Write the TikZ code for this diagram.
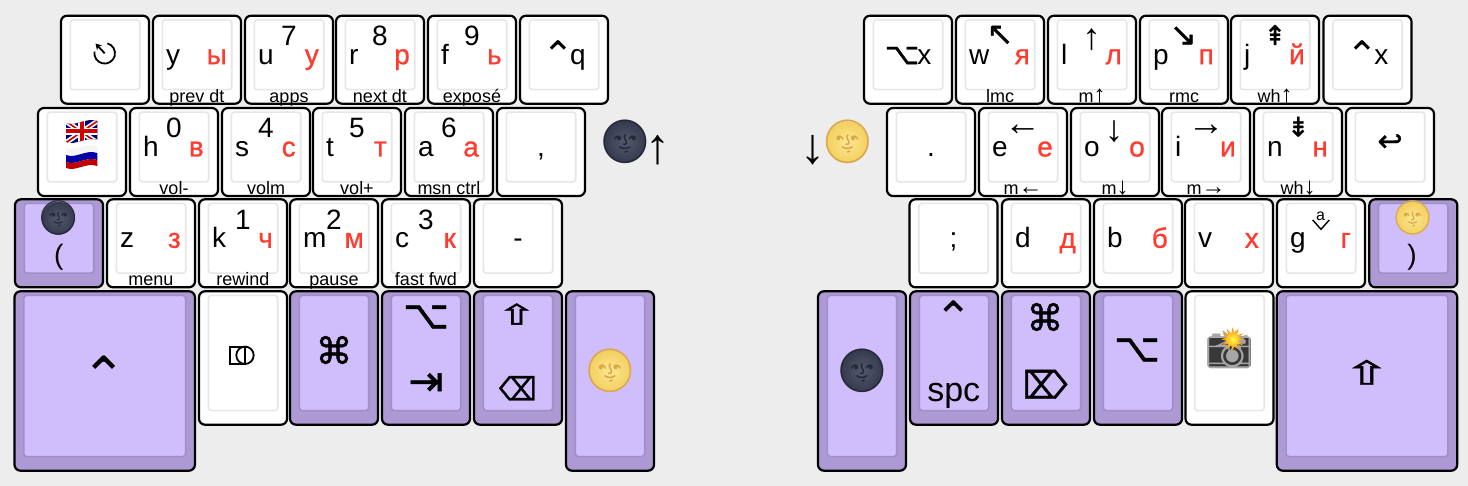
\documentclass[tikz,border=0pt]{standalone}
\usepackage{fontspec}
\setmainfont{Liberation Sans}
\newfontfamily\rufont[FakeBold=0.8]{Liberation Sans}
\newfontfamily\symplain{DejaVu Sans}
\newfontfamily\symfont[FakeBold=1]{DejaVu Sans}
\newfontfamily\symwide[FakeBold=1.4,FakeStretch=1.7]{DejaVu Sans}
\newfontfamily\symnarrow[FakeBold=1.2,FakeStretch=0.82]{DejaVu Sans}
\newfontfamily\emojifont{Noto Emoji}
\usetikzlibrary{arrows.meta,positioning,shapes.geometric}
\definecolor{pagebg}{HTML}{EDEDED}
\definecolor{topline}{HTML}{E6E6E6}
\definecolor{modside}{HTML}{AD9AD5}
\definecolor{modtop}{HTML}{D0BDFB}
\definecolor{modline}{HTML}{A08EC6}
\definecolor{cyr}{HTML}{FF3B30}
\definecolor{moonmid}{HTML}{555970}
\definecolor{moonedge}{HTML}{363A4E}
\definecolor{sunmid}{HTML}{FDE88E}
\definecolor{sunedge}{HTML}{F3CF60}
\newcommand{\px}[1]{\fontsize{#1}{#1}\selectfont}
\newcommand{\ctrlsym}{\raisebox{-4pt}{\symplain\px{38}⌃}\hspace{-4pt}}

\begin{document}
\begin{tikzpicture}[x=1pt, y=-1pt,
  keytop/.style 2 args={path picture={\draw[fill=#1, draw=#2, line width=1.6pt, rounded corners=3pt]
    ([xshift=9.3pt, yshift=-4.1pt]path picture bounding box.north west) rectangle
    ([xshift=-9.3pt, yshift=14.1pt]path picture bounding box.south east);}},
  key/.style={draw=black, fill=white, line width=2.2pt, rounded corners=6pt, inner sep=0pt, minimum width=88pt, minimum height=88pt, keytop={white}{topline}},
  modkey/.style={key, fill=modside, keytop={modtop}{modline}},
  tallkey/.style={minimum height=133.4pt},
  thumbkey/.style={minimum height=179.4pt},
  widekey/.style={minimum width=180.4pt},
  tap/.style={font=\px{28}, inner sep=0pt, anchor=base west, xshift=-31pt, yshift=-4.5pt},
  ru/.style={font=\rufont\px{28}, text=cyr, inner sep=0pt, anchor=base east, xshift=30pt, yshift=-4.5pt},
  hold/.style={font=\px{28}, inner sep=0pt, anchor=base, yshift=14pt},
  sub/.style={font=\px{18}, inner sep=0pt, anchor=base, yshift=-42.5pt},
  solo/.style={font=\px{28}, inner sep=0pt, anchor=base, yshift=-4.5pt},
  arrowsym/.style={font=\px{#1}, inner sep=0pt},
  icon/.style={font=\symfont\px{#1}, inner sep=0pt},
  caret/.style={font=\symplain\px{#1}, inner sep=0pt},
  wideicon/.style={font=\symwide\px{#1}, inner sep=0pt},
  narrowicon/.style={font=\symnarrow\px{#1}, inner sep=0pt},
  iconline/.style={draw=black, line width=1.8pt},
  darkmoon/.style={circle, minimum size=#1, inner sep=0pt, inner color=moonmid, outer color=moonedge},
  fullmoon/.style={circle, minimum size=#1, inner sep=0pt, inner color=sunmid, outer color=sunedge},
  darkface/.style={font=\emojifont\px{#1}, text=moonedge!70!black, inner sep=0pt},
  fullface/.style={font=\emojifont\px{#1}, text=sunedge!50!brown, inner sep=0pt}]
\useasboundingbox (0,0) rectangle (1468,486);
\fill[pagebg] (0,0) rectangle (1468,486);
% left hand, top row
\node[key] (kundo) at (105,59.7) {};
\draw[iconline] (104.7,53.3) ++(-75:10.3) arc[start angle=-75, end angle=190, radius=10.3];
\draw[iconline, -{Stealth[length=6pt,width=7pt]}] (104.7,53.3) -- (95.5,43.5);
\node[key] (ky) at (197,59.7) {};
\node[tap] (ky-tap) at (ky) {y};
\node[ru] (ky-ru) at (ky) {ы};
\node[sub] (ky-sub) at (ky) {prev dt};
\node[key] (ku) at (289,59.7) {};
\node[hold] (ku-hold) at (ku) {7};
\node[tap] (ku-tap) at (ku) {u};
\node[ru] (ku-ru) at (ku) {у};
\node[sub] (ku-sub) at (ku) {apps};
\node[key] (kr) at (380,59.7) {};
\node[hold] (kr-hold) at (kr) {8};
\node[tap] (kr-tap) at (kr) {r};
\node[ru] (kr-ru) at (kr) {р};
\node[sub] (kr-sub) at (kr) {next dt};
\node[key] (kf) at (472,59.7) {};
\node[hold] (kf-hold) at (kf) {9};
\node[tap] (kf-tap) at (kf) {f};
\node[ru] (kf-ru) at (kf) {ь};
\node[sub] (kf-sub) at (kf) {exposé};
\node[key] (kcq) at (564,59.7) {};
\node[solo] (kcq-tap) at (kcq) {\ctrlsym q};
% left hand, home row
\node[key] (kflag) at (82,152) {};
\begin{scope}
\clip (66,123) .. controls (76,127) and (86,117) .. (97.3,121) -- (97.3,140) .. controls (86,136) and (76,146) .. (66,142) -- cycle;
\fill[blue!45!black] (64,117) rectangle (99,147);
\draw[white, line width=5pt] (64,120) -- (99,144) (64,144) -- (99,120);
\draw[red!80!black, line width=1.6pt] (64,120) -- (99,144) (64,144) -- (99,120);
\draw[white, line width=7pt] (81.7,117) -- (81.7,147) (64,131.5) -- (99,131.5);
\draw[red!80!black, line width=4pt] (81.7,117) -- (81.7,147) (64,131.5) -- (99,131.5);
\end{scope}
\fill[white!92!gray] (66,148) .. controls (76,152) and (86,142) .. (97.3,146) -- (97.3,153) .. controls (86,149) and (76,159) .. (66,155) -- cycle;
\fill[blue!65!black] (66,155) .. controls (76,159) and (86,149) .. (97.3,153) -- (97.3,160) .. controls (86,156) and (76,166) .. (66,162) -- cycle;
\fill[red!75!black] (66,162) .. controls (76,166) and (86,156) .. (97.3,160) -- (97.3,166) .. controls (86,162) and (76,172) .. (66,168) -- cycle;
\node[key] (kh) at (174,152) {};
\node[hold] (kh-hold) at (kh) {0};
\node[tap] (kh-tap) at (kh) {h};
\node[ru] (kh-ru) at (kh) {в};
\node[sub] (kh-sub) at (kh) {vol-};
\node[key] (ks) at (266,152) {};
\node[hold] (ks-hold) at (ks) {4};
\node[tap] (ks-tap) at (ks) {s};
\node[ru] (ks-ru) at (ks) {с};
\node[sub] (ks-sub) at (ks) {volm};
\node[key] (kt) at (357,152) {};
\node[hold] (kt-hold) at (kt) {5};
\node[tap] (kt-tap) at (kt) {t};
\node[ru] (kt-ru) at (kt) {т};
\node[sub] (kt-sub) at (kt) {vol+};
\node[key] (ka) at (449,152) {};
\node[hold] (ka-hold) at (ka) {6};
\node[tap] (ka-tap) at (ka) {a};
\node[ru] (ka-ru) at (ka) {а};
\node[sub] (ka-sub) at (ka) {msn ctrl};
\node[key] (kcomma) at (541,152) {};
\node[solo] (kcomma-tap) at (kcomma) {,};
\node[darkmoon=42pt] (moonup) at (625,141.7) {};
\node[darkface=43] (moonup-face) at (moonup) {🌚};
\node[arrowsym=50] (arrowup) at (658,149.7) {\makebox[16pt]{↑}};
% left hand, bottom row
\node[modkey] (klp) at (59,243.3) {};
\node[darkmoon=33pt] (moonlp) at (58.3,218.3) {};
\node[darkface=34] (moonlp-face) at (moonlp) {🌚};
\node[font=\px{28}, inner sep=0pt, anchor=base] (klp-tap) at (58.7,265) {(};
\node[key] (kz) at (151,243.3) {};
\node[tap] (kz-tap) at (kz) {z};
\node[ru] (kz-ru) at (kz) {з};
\node[sub] (kz-sub) at (kz) {menu};
\node[key] (kk) at (243,243.3) {};
\node[hold] (kk-hold) at (kk) {1};
\node[tap] (kk-tap) at (kk) {k};
\node[ru] (kk-ru) at (kk) {ч};
\node[sub] (kk-sub) at (kk) {rewind};
\node[key] (km) at (334,243.3) {};
\node[hold] (km-hold) at (km) {2};
\node[tap] (km-tap) at (km) {m};
\node[ru] (km-ru) at (km) {м};
\node[sub] (km-sub) at (km) {pause};
\node[key] (kc) at (426,243.3) {};
\node[hold] (kc-hold) at (kc) {3};
\node[tap] (kc-tap) at (kc) {c};
\node[ru] (kc-ru) at (kc) {к};
\node[sub] (kc-sub) at (kc) {fast fwd};
\node[key] (kminus) at (518,243.3) {};
\node[solo] (kminus-tap) at (kminus) {-};
% left hand, thumbs
\node[modkey, widekey, thumbkey] (kctrl) at (104.7,381) {};
\node[caret=54] (kctrl-sym) at (104,376) {⌃};
\node[key, tallkey] (kdict) at (243,358) {};
\draw[iconline] (245,346.7) -- (230.3,346.7) -- (230.3,364) -- (245,364) (245,346.7) -- (245,364);
\draw[iconline] (245,355.3) circle (8.7);
\node[modkey, tallkey] (kcmd) at (334,358) {};
\node[icon=37] (kcmd-sym) at (334,350) {⌘};
\node[modkey, tallkey] (kalt) at (426,358) {};
\node[icon=40] (kalt-sym) at (426,317) {⌥};
\node[icon=42] (kalt-tab) at (426,384.3) {⇥};
\node[modkey, tallkey] (kshift) at (518,358) {};
\node[wideicon=28] (kshift-sym) at (516.7,314) {⇧};
\node[narrowicon=32] (kshift-bs) at (517.7,388.3) {⌫};
\node[modkey, thumbkey] (kmoonup) at (610,381) {};
\node[fullmoon=42pt] (moonthumb) at (610,371) {};
\node[fullface=43] (moonthumb-face) at (moonthumb) {🌝};
% right hand, top row
\node[key] (kax) at (908,59.7) {};
\node[solo] (kax-tap) at (kax) {{\symfont\px{30}⌥}\hspace{-2pt}x};
\node[key] (kw) at (1000,59.7) {};
\node[icon=32] (kw-hold) at (1000,35.3) {↖};
\node[tap] (kw-tap) at (kw) {w};
\node[ru] (kw-ru) at (kw) {я};
\node[sub] (kw-sub) at (kw) {lmc};
\node[key] (kl) at (1092,59.7) {};
\node[arrowsym=37] (kl-hold) at (1091.5,39.5) {↑};
\node[tap] (kl-tap) at (kl) {l};
\node[ru] (kl-ru) at (kl) {л};
\node[sub] (kl-sub) at (kl) {m{\px{24}↑}};
\node[key] (kp) at (1184,59.7) {};
\node[icon=32] (kp-hold) at (1183.3,36) {↘};
\node[tap] (kp-tap) at (kp) {p};
\node[ru] (kp-ru) at (kp) {п};
\node[sub] (kp-sub) at (kp) {rmc};
\node[key] (kj) at (1275,59.7) {};
\node[icon=27] (kj-hold) at (1275,35) {⇞};
\node[tap] (kj-tap) at (kj) {j};
\node[ru] (kj-ru) at (kj) {й};
\node[sub] (kj-sub) at (kj) {wh{\px{24}↑}};
\node[key] (kcx) at (1367.5,59.7) {};
\node[solo] (kcx-tap) at (kcx) {\ctrlsym x};
% right hand, home row
\node[key] (kdot) at (931,152) {};
\node[solo] (kdot-tap) at (kdot) {.};
\node[key] (ke) at (1023,152) {};
\node[arrowsym=37] (ke-hold) at (1022.7,130.7) {←};
\node[tap] (ke-tap) at (ke) {e};
\node[ru] (ke-ru) at (ke) {е};
\node[sub] (ke-sub) at (ke) {m{\px{24}←}};
\node[key] (ko) at (1115,152) {};
\node[arrowsym=37] (ko-hold) at (1114,131.7) {↓};
\node[tap] (ko-tap) at (ko) {o};
\node[ru] (ko-ru) at (ko) {о};
\node[sub] (ko-sub) at (ko) {m{\px{24}↓}};
\node[key] (ki) at (1206,152) {};
\node[arrowsym=37] (ki-hold) at (1206,130.7) {→};
\node[tap] (ki-tap) at (ki) {i};
\node[ru] (ki-ru) at (ki) {и};
\node[sub] (ki-sub) at (ki) {m{\px{24}→}};
\node[key] (kn) at (1298,152) {};
\node[icon=27] (kn-hold) at (1298.3,126.7) {⇟};
\node[tap] (kn-tap) at (kn) {n};
\node[ru] (kn-ru) at (kn) {н};
\node[sub] (kn-sub) at (kn) {wh{\px{24}↓}};
\node[key] (kenter) at (1390,152) {};
\node[icon=30] (kenter-sym) at (1390,142.7) {↩};
\node[fullmoon=42pt] (moondown) at (847.3,142.3) {};
\node[fullface=43] (moondown-face) at (moondown) {🌝};
\node[arrowsym=50] (arrowdown) at (812.7,149.7) {\makebox[16pt]{↓}};
% right hand, bottom row
\node[key] (ksemi) at (953.5,243.3) {};
\node[solo] (ksemi-tap) at (ksemi) {;};
\node[key] (kd) at (1046,243.3) {};
\node[tap] (kd-tap) at (kd) {d};
\node[ru] (kd-ru) at (kd) {д};
\node[key] (kb) at (1138,243.3) {};
\node[tap] (kb-tap) at (kb) {b};
\node[ru] (kb-ru) at (kb) {б};
\node[key] (kv) at (1229,243.3) {};
\node[tap] (kv-tap) at (kv) {v};
\node[ru] (kv-ru) at (kv) {х};
\node[key] (kg) at (1321,243.3) {};
\node[font=\px{16}, inner sep=0pt, anchor=base] (kg-hold) at (1320.5,220.7) {a};
\draw[line width=1.4pt] (1312.7,220) -- (1321,229.3) -- (1329.3,220);
\node[tap] (kg-tap) at (kg) {g};
\node[ru] (kg-ru) at (kg) {г};
\node[modkey] (krp) at (1413.3,243.3) {};
\node[fullmoon=33pt] (moonrp) at (1412.7,218.3) {};
\node[fullface=34] (moonrp-face) at (moonrp) {🌝};
\node[font=\px{28}, inner sep=0pt, anchor=base] (krp-tap) at (1412,265) {)};
% right hand, thumbs
\node[modkey, thumbkey] (kmoondown) at (862,381) {};
\node[darkmoon=42pt] (moonthumbr) at (862,370.7) {};
\node[darkface=43] (moonthumbr-face) at (moonthumbr) {🌚};
\node[modkey, tallkey] (kspc) at (954,358) {};
\node[caret=46] (kspc-sym) at (953.3,318) {⌃};
\node[font=\px{34}, inner sep=0pt, anchor=base] (kspc-tap) at (953.7,401.7) {spc};
\node[modkey, tallkey] (krcmd) at (1046,358) {};
\node[icon=37] (krcmd-sym) at (1045,317) {⌘};
\node[narrowicon=38] (krcmd-del) at (1045.3,384.3) {⌦};
\node[modkey, tallkey] (kralt) at (1138,358) {};
\node[icon=40] (kralt-sym) at (1137,350) {⌥};
\node[key, tallkey] (kshot) at (1229.5,358) {};
\node[fill=black!78, rounded corners=1pt, minimum width=43pt, minimum height=29pt, inner sep=0pt] (kshot-body) at (1229,352.2) {};
\node[font=\emojifont\px{38}, text=black!35, inner sep=0pt] (kshot-sym) at (1229,350) {📸};
\node[star, star points=12, star point ratio=2, inner color=yellow!70, outer color=orange, inner sep=0pt, minimum size=24pt] (kshot-flash) at (1232.7,339.3) {};
\node[modkey, widekey, thumbkey] (krshift) at (1367,381) {};
\node[wideicon=33] (krshift-sym) at (1366.7,372.3) {⇧};
\end{tikzpicture}
\end{document}
